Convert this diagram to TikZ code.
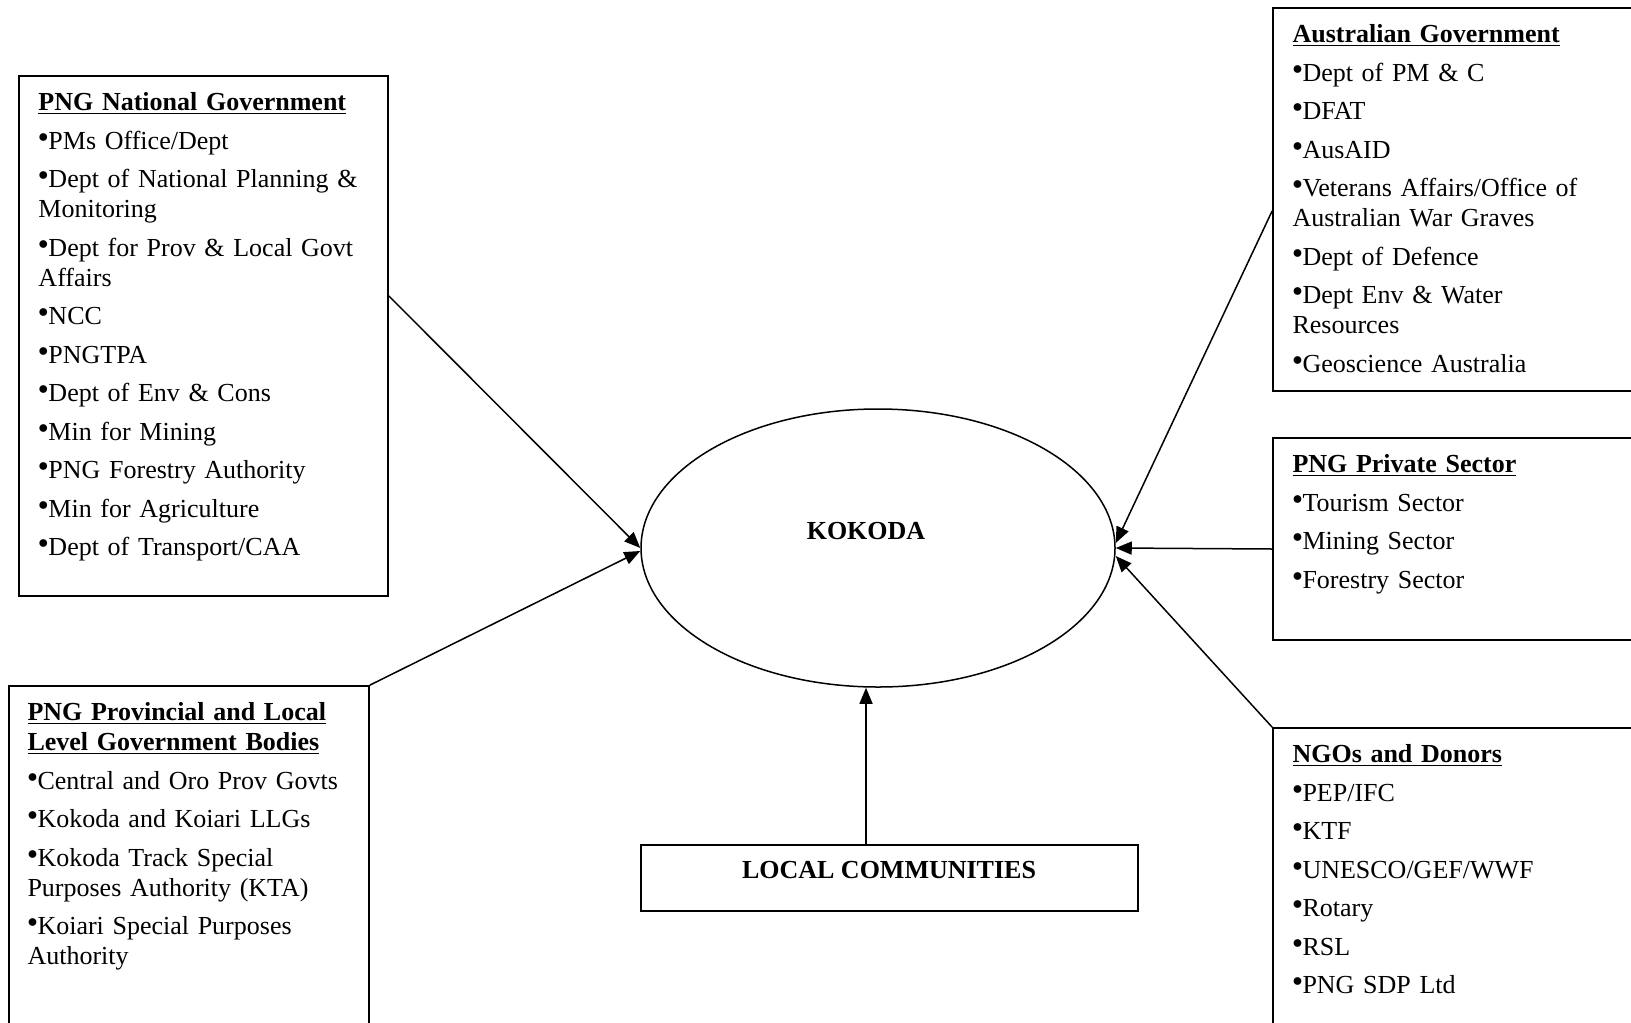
\documentclass[tikz,border=0pt]{standalone}
\usepackage{fontspec}
\setmainfont{Liberation Serif}
\usepackage{tikz}
\usetikzlibrary{arrows.meta,positioning,shapes.geometric,fit}
\newcommand{\hd}[1]{\textbf{\underline{#1}}}
\newcommand{\bul}{\raisebox{3.4pt}{\fontsize{10}{10}\selectfont$\bullet$}}

\begin{document}
\begin{tikzpicture}[
    x=0.5pt, y=-0.5pt,
    frame/.style={rectangle, draw, line width=0.9pt, inner sep=0pt},
    list/.style={anchor=north west, inner sep=0pt, align=left, text width=200pt, font=\fontsize{13}{15}\selectfont, execute at begin node=\setlength{\parskip}{4.25pt}},
    title/.style={inner sep=0pt, font=\fontsize{13}{15}\selectfont\bfseries},
    arrow/.style={-{Triangle[length=8pt,width=6.5pt]}, line width=0.75pt}
]
\clip (0,0) rectangle (1631,1022);
\fill[white] (0,0) rectangle (1631,1022);
\node[frame, fit={(19,76) (388,596)}] (natgov) {};
\node[frame, fit={(1273,8) (1700,391)}] (aus) {};
\node[frame, fit={(1273,438) (1700,640)}] (private) {};
\node[frame, fit={(1273,728) (1700,1080)}] (ngo) {};
\node[frame, fit={(9,686) (369,1080)}] (prov) {};
\node[frame, fit={(641,845) (1138,911)}] (local) {};
\node[ellipse, draw, line width=0.75pt, minimum width=237pt, minimum height=139pt, inner sep=0pt] (kokoda) at (878,548) {};
\node[title] (kokodatext) at (866,531) {KOKODA};
\node[title] (localtext) at (889,870) {LOCAL COMMUNITIES};
\node[list] (natgovlist) at ([shift={(20,17)}]natgov.north west) {%
\hd{PNG National Government}\par
\bul PMs Office/Dept\par
\bul Dept of National Planning \&\\Monitoring\par
\bul Dept for Prov \& Local Govt\\Affairs\par
\bul NCC\par
\bul PNGTPA\par
\bul Dept of Env \& Cons\par
\bul Min for Mining\par
\bul PNG Forestry Authority\par
\bul Min for Agriculture\par
\bul Dept of Transport/CAA};
\node[list] (auslist) at ([shift={(20,17)}]aus.north west) {%
\hd{Australian Government}\par
\bul Dept of PM \& C\par
\bul DFAT\par
\bul AusAID\par
\bul Veterans Affairs/Office of\\Australian War Graves\par
\bul Dept of Defence\par
\bul Dept Env \& Water\\Resources\par
\bul Geoscience Australia};
\node[list] (privatelist) at ([shift={(20,17)}]private.north west) {%
\hd{PNG Private Sector}\par
\bul Tourism Sector\par
\bul Mining Sector\par
\bul Forestry Sector};
\node[list] (ngolist) at ([shift={(20,17)}]ngo.north west) {%
\hd{NGOs and Donors}\par
\bul PEP/IFC\par
\bul KTF\par
\bul UNESCO/GEF/WWF\par
\bul Rotary\par
\bul RSL\par
\bul PNG SDP Ltd};
\node[list] (provlist) at ([shift={(19,17)}]prov.north west) {%
\hd{PNG Provincial and Local}\\\hd{Level Government Bodies}\par
\bul Central and Oro Prov Govts\par
\bul Kokoda and Koiari LLGs\par
\bul Kokoda Track Special\\Purposes Authority (KTA)\par
\bul Koiari Special Purposes\\Authority};
\draw[arrow] ([yshift=20pt]natgov.east) -- (kokoda.west);
\draw[arrow] (prov.north east) -- ([yshift=-1.5pt]kokoda.west);
\draw[arrow] ([yshift=-5.75pt]aus.west) -- ([yshift=2.5pt]kokoda.east);
\draw[arrow] ([yshift=-5pt]private.west) -- (kokoda.east);
\draw[arrow] (ngo.north west) -- ([yshift=-4pt]kokoda.east);
\draw[arrow] ([xshift=-11.75pt]local.north) -- ([xshift=-6pt]kokoda.south);
\end{tikzpicture}
\end{document}
